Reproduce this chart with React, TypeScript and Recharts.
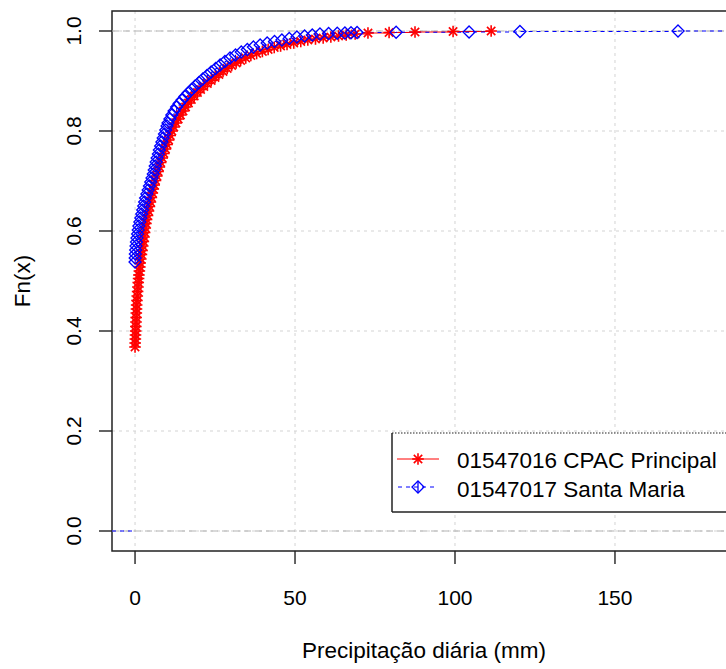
import {
  LineChart,
  Line,
  XAxis,
  YAxis,
  CartesianGrid,
  ReferenceLine,
  ReferenceArea,
} from "recharts";

// ECDF of daily rainfall (x in mm, F = Fn(x))
const cpacX = [
  0.0, 0.05, 0.1, 0.15, 0.2, 0.25, 0.3, 0.35, 0.4, 0.45, 0.5, 0.6, 0.7, 0.8, 0.9, 1.0,
  1.1, 1.2, 1.35, 1.5, 1.6, 1.8, 2.0, 2.2, 2.4, 2.6, 2.8, 3.0, 3.2, 3.4, 3.6, 3.9,
  4.2, 4.5, 4.8, 5.1, 5.4, 5.7, 6.0, 6.4, 6.8, 7.2, 7.6, 8.0, 8.5, 9.0, 9.5, 10.0,
  10.5, 11.0, 11.5, 12.1, 12.8, 13.5, 14.2, 15.0, 15.8, 16.7, 17.6, 18.5, 19.5, 20.5,
  21.5, 22.6, 23.8, 25.0, 26.2, 27.5, 28.8, 30.2, 31.6, 33.0, 34.6, 36.2, 38.0, 39.8,
  41.6, 43.5, 45.5, 47.5, 49.6, 51.8, 54.0, 56.4, 58.8, 61.2, 63.6, 66.0, 68.8, 72.8,
  79.4, 87.5, 99.4, 111.3,
];
const cpacF = [
  0.368, 0.376, 0.384, 0.392, 0.4, 0.409, 0.418, 0.427, 0.436, 0.444, 0.452, 0.461, 0.47, 0.479, 0.488, 0.497,
  0.505, 0.512, 0.52, 0.528, 0.536, 0.544, 0.553, 0.561, 0.57, 0.579, 0.588, 0.597, 0.606, 0.615, 0.623, 0.631,
  0.64, 0.649, 0.658, 0.667, 0.676, 0.684, 0.692, 0.701, 0.71, 0.719, 0.728, 0.737, 0.746, 0.755, 0.764, 0.773,
  0.782, 0.791, 0.8, 0.808, 0.816, 0.824, 0.832, 0.84, 0.848, 0.856, 0.863, 0.87, 0.877, 0.883,
  0.889, 0.895, 0.901, 0.907, 0.913, 0.919, 0.925, 0.931, 0.936, 0.941, 0.946, 0.951, 0.955, 0.959,
  0.963, 0.967, 0.97, 0.973, 0.976, 0.979, 0.982, 0.984, 0.986, 0.988, 0.99, 0.992, 0.994, 0.996,
  0.997, 0.998, 0.999, 1.0,
];

const santaMariaX = [
  0.0, 0.05, 0.1, 0.2, 0.3, 0.45, 0.6, 0.8, 1.0, 1.2, 1.5, 1.8, 2.1, 2.4, 2.7, 3.0,
  3.3, 3.7, 4.1, 4.5, 4.9, 5.3, 5.7, 6.0, 6.3, 6.6, 6.9, 7.3, 7.6, 8.0, 8.4, 8.8,
  9.2, 9.6, 10.0, 10.3, 10.9, 11.5, 12.2, 13.0, 13.8, 14.7, 15.6, 16.6, 17.7, 18.8,
  20.0, 21.2, 22.5, 23.8, 25.2, 26.6, 28.1, 29.7, 31.4, 33.2, 35.1, 37.0, 39.1, 41.3,
  43.6, 45.9, 48.2, 50.6, 53.0, 55.4, 57.8, 60.5, 63.2, 65.6, 67.5, 69.4, 81.6, 104.4,
  120.3, 169.7,
];
const santaMariaF = [
  0.538, 0.546, 0.554, 0.562, 0.57, 0.578, 0.586, 0.594, 0.602, 0.61, 0.618, 0.626, 0.634, 0.642, 0.65, 0.658,
  0.666, 0.674, 0.682, 0.69, 0.698, 0.706, 0.714, 0.722, 0.73, 0.738, 0.746, 0.754, 0.762, 0.77, 0.778, 0.786,
  0.794, 0.802, 0.81, 0.816, 0.824, 0.832, 0.84, 0.848, 0.855, 0.862, 0.869, 0.876, 0.883, 0.89,
  0.897, 0.904, 0.911, 0.918, 0.925, 0.932, 0.939, 0.946, 0.952, 0.958, 0.963, 0.968, 0.972, 0.976,
  0.979, 0.982, 0.985, 0.988, 0.99, 0.992, 0.994, 0.995, 0.9955, 0.996, 0.9965, 0.997, 0.9975, 0.998,
  0.999, 1.0,
];

const seriesNames = ["01547016 CPAC Principal", "01547017 Santa Maria"];
const xTicks = [0, 50, 100, 150];
const yTicks = [0, 0.2, 0.4, 0.6, 0.8, 1.0];
const xDomain = [-7.2, 187.2];
const yDomain = [-0.04, 1.04];

const cpac = cpacX.map((x, i) => ({ x, F: cpacF[i] }));
const santaMaria = santaMariaX.map((x, i) => ({ x, F: santaMariaF[i] }));

const FONT = "'Liberation Sans', Arial, sans-serif";
const RED = "#ff0000";
const BLUE = "#0000ff";

const Star = ({ cx, cy, r = 5.8 }: any) => {
  const d = r * 0.72;
  return (
    <g stroke={RED} strokeWidth={1.6}>
      <line x1={cx - r} y1={cy} x2={cx + r} y2={cy} />
      <line x1={cx} y1={cy - r} x2={cx} y2={cy + r} />
      <line x1={cx - d} y1={cy - d} x2={cx + d} y2={cy + d} />
      <line x1={cx - d} y1={cy + d} x2={cx + d} y2={cy - d} />
    </g>
  );
};

const Diamond = ({ cx, cy, r = 6, cross = false }: any) => (
  <g stroke={BLUE} strokeWidth={1.3} fill="none">
    <path d={`M${cx},${cy - r}L${cx + r},${cy}L${cx},${cy + r}L${cx - r},${cy}Z`} />
    {cross && <line x1={cx} y1={cy - r} x2={cx} y2={cy + r} />}
  </g>
);

const XTick = ({ x, y, payload }: any) => (
  <text x={x} y={y + 31} textAnchor="middle" dominantBaseline="central" fontSize={21} fill="#000" fontFamily={FONT}>
    {payload.value}
  </text>
);

const YTick = ({ x, y, payload }: any) => (
  <text
    x={x - 24}
    y={y}
    textAnchor="middle"
    dominantBaseline="central"
    fontSize={21}
    fill="#000"
    fontFamily={FONT}
    transform={`rotate(-90 ${x - 24} ${y})`}
  >
    {payload.value.toFixed(1)}
  </text>
);

export default function App() {
  return (
    <div
      style={{
        position: "absolute",
        left: 0,
        top: 0,
        width: 726,
        height: 669,
        overflow: "hidden",
        background: "#fff",
        fontFamily: FONT,
      }}
    >
      <LineChart width={760} height={669} margin={{ top: 11, right: 26, bottom: 0, left: 0 }}>
        <CartesianGrid stroke="#d3d3d3" strokeDasharray="3 4" horizontalValues={yTicks} verticalValues={xTicks} />
        <XAxis
          dataKey="x"
          type="number"
          domain={xDomain}
          ticks={xTicks}
          allowDataOverflow
          height={118}
          tickSize={13}
          axisLine={false}
          tickLine={{ stroke: "#222", strokeWidth: 1.4 }}
          tick={<XTick />}
          interval={0}
        />
        <YAxis
          type="number"
          domain={yDomain}
          ticks={yTicks}
          allowDataOverflow
          width={112}
          tickSize={13}
          axisLine={false}
          tickLine={{ stroke: "#222", strokeWidth: 1.4 }}
          tick={<YTick />}
          interval={0}
        />
        <ReferenceLine y={0} stroke="#b3b3b3" strokeDasharray="7 4" />
        <ReferenceLine y={1} stroke="#b3b3b3" strokeDasharray="7 4" />
        <Line
          data={cpac}
          dataKey="F"
          type="stepAfter"
          stroke={RED}
          strokeWidth={1}
          dot={(p: any) => <Star key={`r${p.index}`} cx={p.cx} cy={p.cy} />}
          activeDot={false}
          isAnimationActive={false}
        />
        <Line
          data={santaMaria}
          dataKey="F"
          type="stepAfter"
          stroke={BLUE}
          strokeWidth={1}
          strokeDasharray="4 4"
          dot={(p: any) => <Diamond key={`b${p.index}`} cx={p.cx} cy={p.cy} />}
          activeDot={false}
          isAnimationActive={false}
        />
        <ReferenceLine
          segment={[
            { x: xDomain[0], y: 0 },
            { x: santaMariaX[0], y: 0 },
          ]}
          stroke={BLUE}
          strokeDasharray="4 4"
        />
        <ReferenceLine
          segment={[
            { x: santaMariaX[santaMariaX.length - 1], y: 1 },
            { x: xDomain[1], y: 1 },
          ]}
          stroke={BLUE}
          strokeDasharray="4 4"
        />
        <ReferenceArea
          x1={xDomain[0]}
          x2={xDomain[1]}
          y1={yDomain[0]}
          y2={yDomain[1]}
          fill="none"
          fillOpacity={0}
          stroke="#222"
          strokeWidth={1.5}
        />
      </LineChart>
      <svg width={726} height={669} style={{ position: "absolute", left: 0, top: 0, pointerEvents: "none" }}>
        <rect x={392} y={433} width={400} height={79} fill="#fff" />
        <line x1={392} y1={433} x2={726} y2={433} stroke="#222" strokeWidth={1.2} strokeDasharray="1.5 1.5" />
        <line x1={392} y1={433} x2={392} y2={512} stroke="#222" strokeWidth={1.5} />
        <line x1={392} y1={512} x2={726} y2={512} stroke="#222" strokeWidth={1.5} />
        <line x1={397} y1={459} x2={439} y2={459} stroke={RED} strokeWidth={1} />
        <Star cx={418} cy={459} />
        <line x1={398} y1={487} x2={438} y2={487} stroke={BLUE} strokeWidth={1} strokeDasharray="4 4" />
        <Diamond cx={418} cy={487} cross />
        <text x={457} y={468} fontSize={22.5} fill="#000" fontFamily={FONT}>
          {seriesNames[0]}
        </text>
        <text x={457} y={497} fontSize={22.5} fill="#000" fontFamily={FONT}>
          {seriesNames[1]}
        </text>
        <text x={424} y={650} textAnchor="middle" dominantBaseline="central" fontSize={22.5} fill="#000" fontFamily={FONT}>
          Precipitação diária (mm)
        </text>
        <text
          x={22}
          y={281}
          textAnchor="middle"
          dominantBaseline="central"
          fontSize={22.5}
          fill="#000"
          fontFamily={FONT}
          transform="rotate(-90 22 281)"
        >
          Fn(x)
        </text>
      </svg>
    </div>
  );
}
